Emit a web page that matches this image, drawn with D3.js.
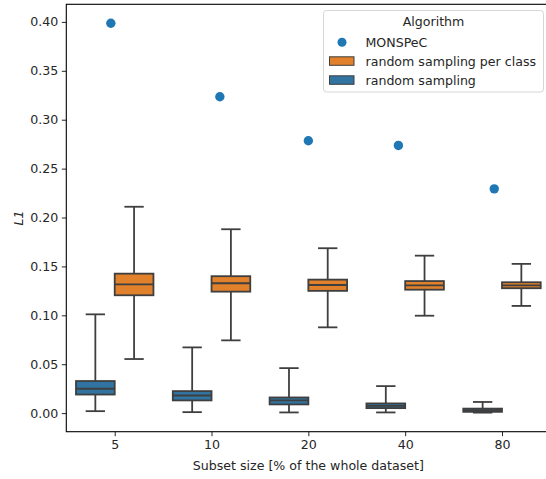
<!DOCTYPE html>
<html>
<head>
<meta charset="utf-8">
<script src="https://cdn.jsdelivr.net/npm/d3@7"></script>
<style>
  html, body { margin: 0; padding: 0; background: #fff; }
  svg { display: block; font-family: "DejaVu Sans", sans-serif; }
</style>
</head>
<body>
<svg id="chart" width="546" height="479"></svg>
<script>
// ---- data ----
const categories = ["5", "10", "20", "40", "80"];
const hues = ["random sampling", "random sampling per class"];
// five-number summaries [whiskerLow, q1, median, q3, whiskerHigh]
const randomSampling = [
  [0.002, 0.019, 0.0249, 0.0328, 0.101],
  [0.001, 0.013, 0.018, 0.0225, 0.0672],
  [0.0007, 0.0089, 0.013, 0.016, 0.046],
  [0.0007, 0.0051, 0.0075, 0.0099, 0.0276],
  [0.0005, 0.0013, 0.003, 0.0046, 0.0114]
];
const randomSamplingPerClass = [
  [0.0553, 0.1205, 0.1317, 0.1426, 0.211],
  [0.0744, 0.1242, 0.1328, 0.140, 0.188],
  [0.0877, 0.125, 0.131, 0.1365, 0.1686],
  [0.0996, 0.1262, 0.1307, 0.135, 0.161],
  [0.1096, 0.1277, 0.1307, 0.1338, 0.1526]
];
const monspec = [0.3986, 0.3235, 0.2785, 0.2737, 0.2293];
const monspecJitter = [-0.04, 0.086, 0.0, -0.07, -0.08];
const yTicks = [0.00, 0.05, 0.10, 0.15, 0.20, 0.25, 0.30, 0.35, 0.40];
const legendItems = ["MONSPeC", "random sampling per class", "random sampling"];

// ---- layout ----
const svg = d3.select("#chart");
const mLeft = 66.3, mRight = 550.4, mTop = 4.3, mBottom = 431.7;
const colors = { "random sampling": "#3274a1", "random sampling per class": "#e1812c", "MONSPeC": "#1f77b4" };
const lineColor = "#3f3f3f";
const fontSize = 12.6;

const x = d3.scaleLinear().domain([-0.5, categories.length - 0.5]).range([mLeft, mRight]);
const y = d3.scaleLinear().domain([-0.019, 0.418]).range([mBottom, mTop]);
const unit = x(1) - x(0);

// ---- boxes ----
const series = [randomSampling, randomSamplingPerClass];
const hueOffsets = [-0.2, 0.2];
const boxW = 0.4;
const g = svg.append("g");
series.forEach((s, hi) => {
  s.forEach((d, ci) => {
    const cx = x(ci + hueOffsets[hi]);
    const bw = boxW * unit;
    const capW = bw / 2;
    const [lo, q1, med, q3, hi5] = d;
    const bg = g.append("g");
    bg.append("line").attr("x1", cx).attr("x2", cx).attr("y1", y(q3)).attr("y2", y(hi5))
      .attr("stroke", lineColor).attr("stroke-width", 1.8);
    bg.append("line").attr("x1", cx).attr("x2", cx).attr("y1", y(q1)).attr("y2", y(lo))
      .attr("stroke", lineColor).attr("stroke-width", 1.8);
    [lo, hi5].forEach(v => {
      bg.append("line").attr("x1", cx - capW / 2).attr("x2", cx + capW / 2)
        .attr("y1", y(v)).attr("y2", y(v))
        .attr("stroke", lineColor).attr("stroke-width", 1.8);
    });
    bg.append("rect").attr("x", cx - bw / 2).attr("width", bw)
      .attr("y", y(q3)).attr("height", y(q1) - y(q3))
      .attr("fill", colors[hues[hi]]).attr("stroke", lineColor).attr("stroke-width", 1.8);
    bg.append("line").attr("x1", cx - bw / 2).attr("x2", cx + bw / 2)
      .attr("y1", y(med)).attr("y2", y(med))
      .attr("stroke", lineColor).attr("stroke-width", 1.8);
  });
});

// ---- MONSPeC points ----
svg.append("g").selectAll("circle").data(monspec).join("circle")
  .attr("cx", (d, i) => x(i + monspecJitter[i]))
  .attr("cy", d => y(d))
  .attr("r", 4.7)
  .attr("fill", colors["MONSPeC"]);

// ---- axes ----
const yAxis = svg.append("g").attr("transform", `translate(${mLeft},0)`)
  .call(d3.axisLeft(y).tickValues(yTicks).tickFormat(d3.format(".2f")).tickSize(4.5).tickPadding(3.5).tickSizeOuter(0));
const xAxis = svg.append("g").attr("transform", `translate(0,${mBottom})`)
  .call(d3.axisBottom(x).tickValues(d3.range(categories.length)).tickFormat(i => categories[i]).tickSize(4.5).tickPadding(3.5).tickSizeOuter(0));
[yAxis, xAxis].forEach(a => {
  a.selectAll("text").attr("font-size", fontSize).attr("font-family", "DejaVu Sans").attr("fill", "#262626");
  a.selectAll("line").attr("stroke", "#262626").attr("stroke-width", 1);
  a.select(".domain").remove();
});
svg.append("rect").attr("x", mLeft).attr("y", mTop).attr("width", mRight - mLeft).attr("height", mBottom - mTop)
  .attr("fill", "none").attr("stroke", "#000").attr("stroke-width", 1.1);

// ---- labels ----
svg.append("text").attr("x", (mLeft + mRight) / 2).attr("y", 469.5).attr("text-anchor", "middle")
  .attr("font-size", fontSize).attr("fill", "#262626").text("Subset size [% of the whole dataset]");
svg.append("text").attr("transform", `translate(22.5,${(mTop + mBottom) / 2}) rotate(-90)`)
  .attr("text-anchor", "middle").attr("font-size", fontSize).attr("font-style", "italic")
  .attr("fill", "#262626").text("L1");

// ---- legend ----
const lg = svg.append("g");
lg.append("rect").attr("x", 323.5).attr("y", 10.5).attr("width", 220).attr("height", 81.5)
  .attr("rx", 3).attr("fill", "#fff").attr("fill-opacity", 0.8).attr("stroke", "#d6d6d6").attr("stroke-width", 1);
lg.append("text").attr("x", 433.5).attr("y", 26).attr("text-anchor", "middle")
  .attr("font-size", fontSize).attr("fill", "#262626").text("Algorithm");
legendItems.forEach((name, i) => {
  const cy = 42.3 + i * 19;
  if (name === "MONSPeC") {
    lg.append("circle").attr("cx", 342).attr("cy", cy).attr("r", 4.5).attr("fill", colors[name]);
  } else {
    lg.append("rect").attr("x", 329.5).attr("y", cy - 4.5).attr("width", 24.5).attr("height", 8.5)
      .attr("fill", colors[name]).attr("stroke", lineColor).attr("stroke-width", 1);
  }
  lg.append("text").attr("x", 365.5).attr("y", cy + 4.5).attr("font-size", fontSize)
    .attr("fill", "#262626").text(name);
});
</script>
</body>
</html>
